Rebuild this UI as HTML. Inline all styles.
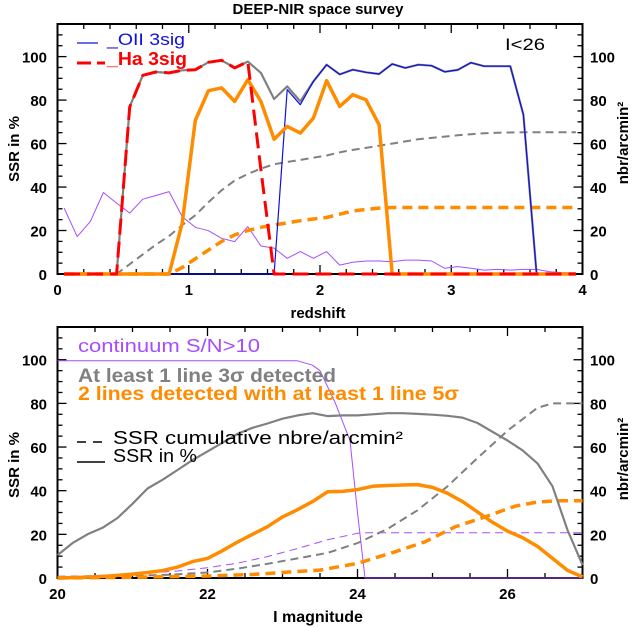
<!DOCTYPE html>
<html><head><meta charset="utf-8"><style>
html,body{margin:0;padding:0;background:#fff;}
svg{display:block;font-family:"Liberation Sans","DejaVu Sans",sans-serif;}
</style></head><body>
<svg id="chart" width="636" height="627" viewBox="0 0 636 627">
<g id="g"></g>
</svg>
<script>
// ---- top panel data (redshift grid) ----
const zBins = [0.05,0.15,0.25,0.35,0.45,0.55,0.65,0.75,0.85,0.95,1.05,1.15,1.25,1.35,1.45,1.55,1.65,1.75,1.85,1.95,2.05,2.15,2.25,2.35,2.45,2.55,2.65,2.75,2.85,2.95,3.05,3.15,3.25,3.35,3.45,3.55,3.65,3.75,3.85,3.95];
const topGray = [0,0,0,0,0,77,91.4,92.9,92.5,93.7,94,97.4,98.3,94.8,97.7,92.5,80.5,86.3,79.4,88.6,96.3,91.8,94,92.8,92,96.6,94.8,96.3,95.8,93,93.9,97.2,95.6,95.6,95.6,73.3,0,0,0,0];
const topHa = [0,0,0,0,0,76.8,91.4,92.9,92.5,93.7,94,97.4,98.3,94.8,97.7,48,0,0,0,0,0,0,0,0,0,0,0,0,0,0,0,0,0,0,0,0,0,0,0,0];
const topOII = [0,0,0,0,0,0,0,0,0,0,0,0,0,0,0,0,0,84.8,77.9,88.6,96.3,91.8,94,92.8,92,96.6,94.8,96.3,95.8,93,93.9,97.2,95.6,95.6,95.6,73.3,0,0,0,0];
const topOrange = [0,0,0,0,0,0,0,0,0,23.4,70.6,84.3,85.6,79.4,89.4,79.4,62,67.9,64.8,71.7,88.9,77.1,82.5,80.2,68.7,0,0,0,0,0,0,0,0,0,0,0,0,0,0,0];
const topGrayCum = [0,0,0,0,0,4.5,9,13.5,17.5,22.5,27,33,38.5,43,46,48.5,50.5,51.5,52.5,53.5,54.5,56,57.1,58,59,60,61,62,62.6,63.2,63.8,64.3,64.7,65,65.1,65.2,65.2,65.2,65.2,65.2];
const topOrangeCum = [0,0,0,0,0,0,0,0,0,3,7,11,15,18,20,21.5,22.6,23.5,24.5,25.3,26,27.5,29,29.7,30.3,30.6,30.6,30.6,30.6,30.6,30.6,30.6,30.6,30.6,30.6,30.6,30.6,30.6,30.6,30.6];
const topPurple = [30.3,17.2,24.1,37.5,32.6,28,34.4,36.1,37.9,26.4,21.5,19.9,16.4,14.9,21.8,12.9,11.9,7.2,10.3,7.2,10.3,4.1,5.4,6,6,5.6,6.4,6.4,6,2.6,3.4,2.6,1.8,2.1,1.8,2.1,2.1,1,0.6,0.6];
const topXTicks = ["0","1","2","3","4"];
const yTickLabels = ["0","20","40","60","80","100"];
// ---- bottom panel data (I magnitude) ----
const magBins = [20,20.2,20.4,20.6,20.8,21,21.2,21.4,21.6,21.8,22,22.2,22.4,22.6,22.8,23,23.2,23.4,23.6,23.8,24,24.2,24.4,24.6,24.8,25,25.2,25.4,25.6,25.8,26,26.2,26.4,26.6,26.8,27];
const botGray = [10.5,16,20,23,27.5,34,41,45,49.5,54,58,62,66,68.8,70.8,73,74.5,75.5,74.2,74.5,74.5,75,75.5,75.5,75.2,74.8,74.3,73.5,71,67,63,58.5,52.5,42,22,6];
const botOrange = [0,0.2,0.4,0.7,1.2,1.8,2.5,3.4,5,7.5,9,12.5,16.5,20,23.5,28,31.3,35,39.5,39.7,40.5,42,42.4,42.6,42.8,41.5,38.8,35,30.3,25.5,21.5,18.5,14.5,9,3.5,0.5];
const contMags = [20,23.2,23.4,23.5,23.7,23.9,24.0,24.1,27];
const contVals = [99.5,99.5,97.5,95,80.5,63,30,0,0];
const contCumMags = [20,20.4,20.8,21.2,21.6,22,22.4,22.8,23.2,23.6,24,24.1,27];
const contCumVals = [0.8,1,1.5,2.2,3.2,4.7,6.8,9.8,13.5,17.5,20.5,20.7,20.7];
const grayCumMags = [20,20.8,21.5,22,22.4,22.8,23.2,23.6,24,24.4,24.8,25.2,25.6,26,26.4,26.6,27];
const grayCumVals = [0.5,0.8,1.5,2.5,4.3,6.5,9,11.5,16,22.5,31,42,55,67.5,78,80,80];
const orangeCumMags = [20,21,22,22.6,23,23.5,24,24.5,24.9,25.3,25.7,26.1,26.4,26.7,27];
const orangeCumVals = [0,0.3,0.9,1.6,2.5,3.6,6.7,12,16.6,23.4,28,32.9,34.8,35.4,35.4];
const botXTicks = ["20","22","24","26"];

const NS="http://www.w3.org/2000/svg";
const root=document.getElementById('g');
function el(tag,attrs,parent,text){const e=document.createElementNS(NS,tag);for(const k in attrs)e.setAttribute(k,attrs[k]);if(text!==undefined)e.textContent=text;(parent||root).appendChild(e);return e;}

const L=57.5,R=582.5;
const pTop={y0:274,y1:24,xmin:0,xmax:4};
const pBot={y0:578,y1:327,xmin:20,xmax:27};
function sx(p,v){return L+(v-p.xmin)/(p.xmax-p.xmin)*(R-L);}
function sy(p,v){return p.y0-v/115*(p.y0-p.y1);}

function series(p,xs,ys,stroke,w,dash,name){
  const pts=xs.map((x,i)=>sx(p,x).toFixed(1)+","+sy(p,ys[i]).toFixed(1)).join(" ");
  const e=el('polyline',{points:pts,fill:'none',stroke:stroke,'stroke-width':w,'stroke-linejoin':'round'});
  if(dash)e.setAttribute('stroke-dasharray',dash);
  
  
}

function axes(p,major,minor,labels,name){
  const g=el('g',{});
  
  
  el('rect',{x:L,y:p.y1,width:R-L,height:p.y0-p.y1,fill:'none',stroke:'#000','stroke-width':2},g);
  const n=Math.round((p.xmax-p.xmin)/minor);
  for(let i=0;i<=n;i++){
    const v=p.xmin+i*minor;
    const x=sx(p,v);const isM=Math.abs((v-p.xmin)/major-Math.round((v-p.xmin)/major))<1e-6;
    const len=isM?9:5;
    el('line',{x1:x,x2:x,y1:p.y0,y2:p.y0-len,stroke:'#000','stroke-width':1.3},g);
    el('line',{x1:x,x2:x,y1:p.y1,y2:p.y1+len,stroke:'#000','stroke-width':1.3},g);
  }
  labels.forEach((t)=>{
    const x=sx(p,parseFloat(t));
    const e=el('text',{x:x,y:p.y0+21,'text-anchor':'middle','font-size':15,'font-weight':'bold'},g,t);
    
    
  });
  for(let v=0;v<=115;v+=5){
    const y=sy(p,v);const len=v%20===0?9:5;
    el('line',{x1:L,x2:L+len,y1:y,y2:y,stroke:'#000','stroke-width':1.3},g);
    el('line',{x1:R,x2:R-len,y1:y,y2:y,stroke:'#000','stroke-width':1.3},g);
  }
  yTickLabels.forEach(t=>{
    const y=sy(p,parseFloat(t))+6;
    const a=el('text',{x:47,y:y,'text-anchor':'end','font-size':15,'font-weight':'bold'},g,t);
    
    
    const b=el('text',{x:590,y:y,'text-anchor':'start','font-size':15,'font-weight':'bold'},g,t);
    
    
  });
}

// ---------- TOP ----------
axes(pTop,1,0.2,topXTicks,'top');
series(pTop,zBins,topPurple,'#a64dff',1,null,'top-continuum-line');
series(pTop,zBins,topGrayCum,'#808080',2,'8,5','top-gray-cumulative-line');
series(pTop,zBins,topOrangeCum,'#ff8c00',3.5,'10,6','top-orange-cumulative-line');
series(pTop,zBins,topGray,'#808080',2.2,null,'top-gray-ssr-line');
series(pTop,zBins,topOII,'#1010e0',1.2,null,'top-oii-line');
series(pTop,zBins,topOrange,'#ff8c00',3.5,null,'top-orange-ssr-line');
series(pTop,zBins,topHa,'#ff0000',3,'16,7','top-ha-line');

let e;
e=el('line',{x1:77,x2:98,y1:43,y2:43,stroke:'#1010e0','stroke-width':1.2});

e=el('text',{x:107,y:45,'font-size':17,fill:'#1010e0',textLength:78,lengthAdjust:'spacingAndGlyphs'},null,"_OII 3sig");

e=el('line',{x1:77,x2:105,y1:63,y2:63,stroke:'#ff0000','stroke-width':3,'stroke-dasharray':'14,6'});

e=el('text',{x:107,y:65,'font-size':18,'font-weight':'bold',fill:'#ff0000',textLength:80,lengthAdjust:'spacingAndGlyphs'},null,"_Ha 3sig");

e=el('text',{x:505,y:50,'font-size':17,fill:'#000',textLength:40,lengthAdjust:'spacingAndGlyphs'},null,"I<26");


// ---------- BOTTOM ----------
axes(pBot,2,0.5,botXTicks,'bottom');
series(pBot,contCumMags,contCumVals,'#a64dff',1,'8,5','bottom-continuum-cumulative-line');
series(pBot,contMags,contVals,'#a64dff',1,null,'bottom-continuum-line');
series(pBot,grayCumMags,grayCumVals,'#808080',2,'8,5','bottom-gray-cumulative-line');
series(pBot,orangeCumMags,orangeCumVals,'#ff8c00',3.5,'10,6','bottom-orange-cumulative-line');
series(pBot,magBins,botGray,'#808080',2.2,null,'bottom-gray-ssr-line');
series(pBot,magBins,botOrange,'#ff8c00',3.5,null,'bottom-orange-ssr-line');

e=el('text',{x:78,y:352,'font-size':18,fill:'#a64dff',textLength:182,lengthAdjust:'spacingAndGlyphs'},null,"continuum S/N>10");

e=el('text',{x:78,y:382,'font-size':19,'font-weight':'bold',fill:'#808080',textLength:258,lengthAdjust:'spacingAndGlyphs'},null,"At least 1 line 3σ detected");

e=el('text',{x:78,y:400,'font-size':19,'font-weight':'bold',fill:'#ff8c00',textLength:381,lengthAdjust:'spacingAndGlyphs'},null,"2 lines detected with at least 1 line 5σ");

e=el('line',{x1:77,x2:105,y1:442,y2:442,stroke:'#000','stroke-width':1.5,'stroke-dasharray':'9,7'});

e=el('text',{x:113,y:444,'font-size':18,fill:'#000',textLength:290,lengthAdjust:'spacingAndGlyphs'},null,"SSR cumulative nbre/arcmin²");

e=el('line',{x1:77,x2:105,y1:462,y2:462,stroke:'#000','stroke-width':1.5});

e=el('text',{x:113,y:462,'font-size':18,fill:'#000',textLength:84,lengthAdjust:'spacingAndGlyphs'},null,"SSR in %");


e=el('text',{x:318,y:14,'text-anchor':'middle','font-size':15,'font-weight':'bold'},null,"DEEP-NIR space survey");

e=el('text',{x:318,y:318,'text-anchor':'middle','font-size':15,'font-weight':'bold'},null,"redshift");

e=el('text',{x:318,y:622,'text-anchor':'middle','font-size':16,'font-weight':'bold'},null,"I magnitude");

[[149,'top'],[465,'bottom']].forEach(([cy,n])=>{
  const a=el('text',{x:0,y:0,'text-anchor':'middle','font-size':15,'font-weight':'bold',transform:`translate(19,${cy}) rotate(-90)`},null,"SSR in %");
  
  const b=el('text',{x:0,y:0,'text-anchor':'middle','font-size':15,'font-weight':'bold',transform:`translate(628,${cy-6}) rotate(-90)`},null,"nbr/arcmin²");
  
});
</script>
</body></html>
